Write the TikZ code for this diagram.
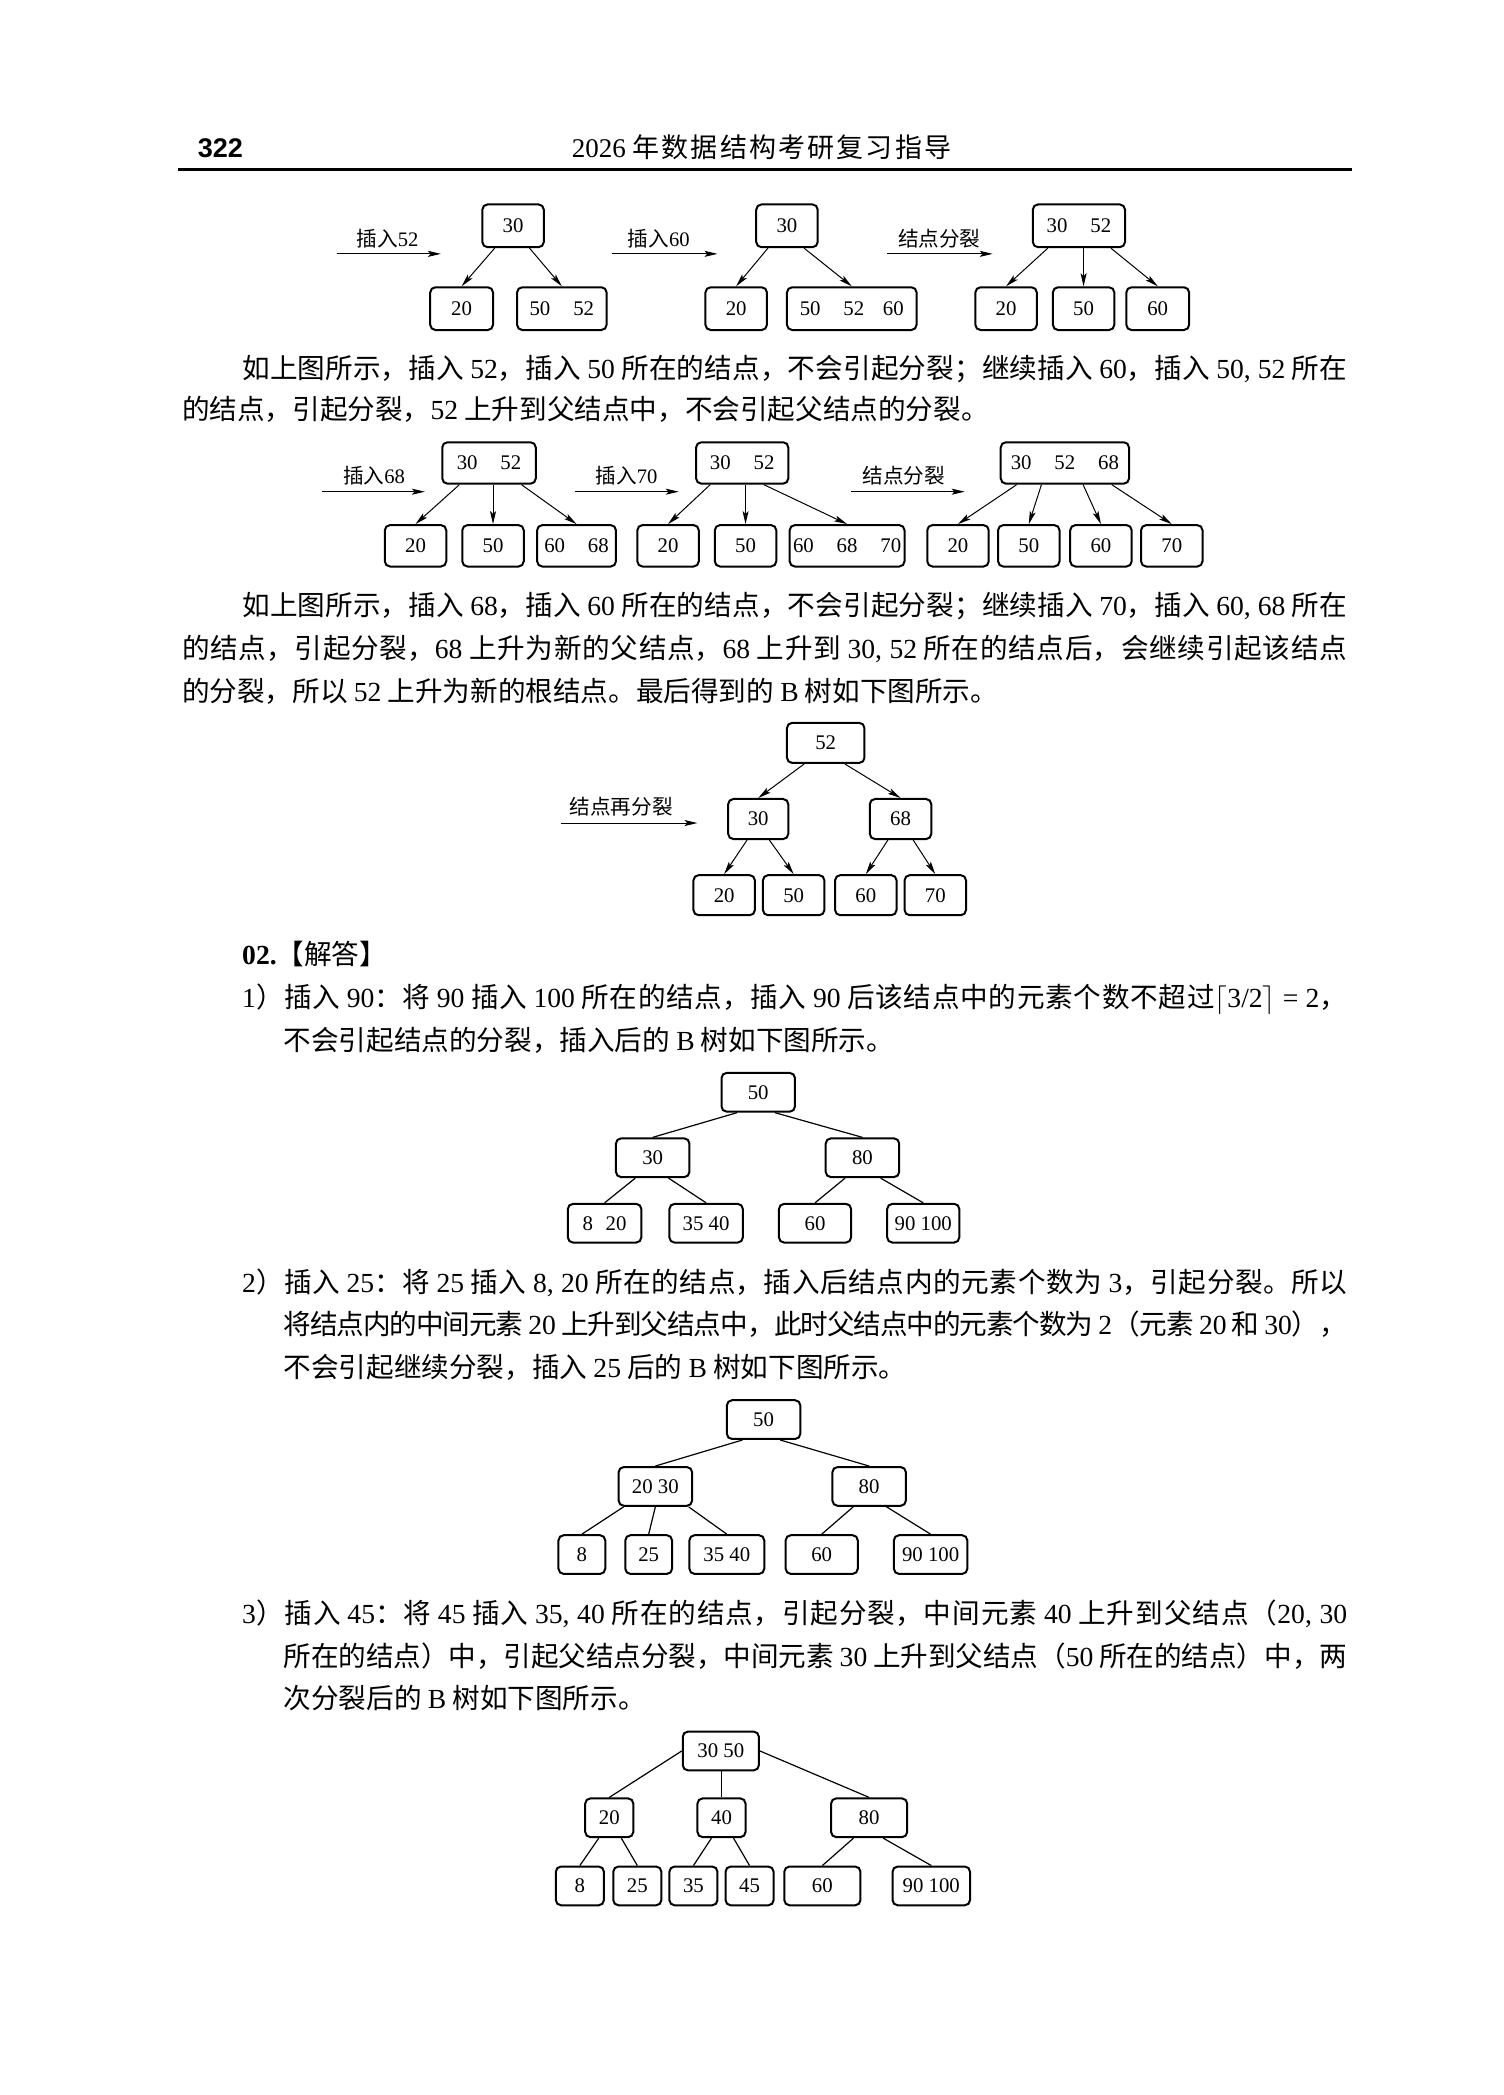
\documentclass[tikz,border=0pt]{standalone}
\usepackage{fontspec}
\setmainfont{Liberation Serif}
\newfontfamily\cjk{Noto Sans CJK SC}
\newfontfamily\cjkfang[LetterSpace=8]{Noto Sans CJK SC}
\newfontfamily\hsans{Liberation Sans}
\usetikzlibrary{arrows.meta,calc}
\newcommand\nm[1]{{\rmfamily #1}}
\newcommand\gp{\hspace{1.1em}}
\newcommand\jline[2]{\parbox[b]{#1}{\XeTeXlinebreaklocale "zh"\XeTeXlinebreakskip=0pt plus 3pt minus 1pt\tolerance=10000\parfillskip=0pt\noindent #2}}
\tikzset{
  bx/.style={draw, line width=1pt, rounded corners=2.6pt, inner sep=0pt, minimum width=#1*0.668pt},
  h/.style={minimum height=#1*0.668pt},
  arr/.style={-{Stealth[length=6.5pt,width=3pt,inset=1.4pt]}, line width=0.5pt},
  ln/.style={line width=0.6pt},
  lab/.style={inner sep=0pt, font=\fontsize{10.3}{12}\selectfont\cjk},
  txt/.style={anchor=base west, inner sep=0pt, font=\fontsize{13.8}{16}\selectfont\cjk},
}
\begin{document}
\begin{tikzpicture}[x=0.668pt, y={(0pt,-0.668pt)}, font=\fontsize{10.4}{12}\selectfont]
\fill[white] (0,0) rectangle (1125,1568);
\useasboundingbox (0,0) rectangle (1125,1568);

% header
\node[anchor=base, inner sep=0pt] (pg) at (165,118) {\fontsize{13.5}{16}\selectfont\hsans\bfseries 322};
\node[anchor=base, inner sep=0pt] (tt) at (570,118) {\fontsize{13.5}{16}\selectfont 2026 {\cjkfang 年数据结构考研复习指导}};
\coordinate (rl) at (133,127);
\coordinate (rr) at (1012,127);
\draw[line width=1.2pt] (rl) -- (rr);

% ---------- row 1 ----------
\coordinate (s1) at (252,190); \coordinate (e1) at (330,190);
\draw[arr] (s1) -- (e1);
\node[lab] (l1) at (290,179) {插入\nm{52}};
\node[bx=46,h=32] (a1r) at (384,169) {30};
\node[bx=47,h=32] (a1a) at (345.5,231) {20};
\node[bx=67,h=32] (a1b) at (420.5,231) {50\gp 52};
\draw[arr] ($(a1r.south west)!0.21!(a1r.south east)$) -- (a1a.north);
\draw[arr] ($(a1r.south west)!0.76!(a1r.south east)$) -- (a1b.north);

\coordinate (s2) at (458,190); \coordinate (e2) at (537,190);
\draw[arr] (s2) -- (e2);
\node[lab] (l2) at (493,179) {插入\nm{60}};
\node[bx=46,h=32] (a2r) at (589,169) {30};
\node[bx=46,h=32] (a2a) at (551,231) {20};
\node[bx=97,h=32] (a2b) at (637.5,231) {50\gp 52\hspace{0.9em}60};
\draw[arr] ($(a2r.south west)!0.2!(a2r.south east)$) -- (a2a.north);
\draw[arr] ($(a2r.south west)!0.77!(a2r.south east)$) -- (a2b.north);

\coordinate (s3) at (664,190); \coordinate (e3) at (743,190);
\draw[arr] (s3) -- (e3);
\node[lab] (l3) at (703,179) {结点分裂};
\node[bx=69,h=32] (a3r) at (807.5,169) {30\gp 52};
\node[bx=46,h=32] (a3a) at (753,231) {20};
\node[bx=46,h=32] (a3b) at (811,231) {50};
\node[bx=47,h=32] (a3c) at (866.5,231) {60};
\draw[arr] ($(a3r.south west)!0.17!(a3r.south east)$) -- (a3a.north);
\draw[arr] (a3b.north |- a3r.south) -- (a3b.north);
\draw[arr] ($(a3r.south west)!0.84!(a3r.south east)$) -- (a3c.north);

% paragraph 1
\node[txt] (p1a) at (181,283) {\jline{552.4pt}{如上图所示，插入 \nm{52}，插入 \nm{50} 所在的结点，不会引起分裂；继续插入 \nm{60}，插入 \nm{50, 52} 所在}};
\node[txt] (p1b) at (136,314) {的结点，引起分裂，\nm{52} 上升到父结点中，不会引起父结点的分裂。};

% ---------- row 2 ----------
\coordinate (s4) at (241,368); \coordinate (e4) at (318,368);
\draw[arr] (s4) -- (e4);
\node[lab] (l4) at (280,356) {插入\nm{68}};
\node[bx=70,h=31] (b1r) at (366,346.5) {30\gp 52};
\node[bx=46,h=31] (b1a) at (311,408.5) {20};
\node[bx=46,h=31] (b1b) at (369,408.5) {50};
\node[bx=59,h=31] (b1c) at (431.5,408.5) {60\gp 68};
\draw[arr] ($(b1r.south west)!0.19!(b1r.south east)$) -- (b1a.north);
\draw[arr] (b1b.north |- b1r.south) -- (b1b.north);
\draw[arr] ($(b1r.south west)!0.84!(b1r.south east)$) -- (b1c.north);

\coordinate (s5) at (430,368); \coordinate (e5) at (508,368);
\draw[arr] (s5) -- (e5);
\node[lab] (l5) at (469,356) {插入\nm{70}};
\node[bx=69,h=31] (b2r) at (555.5,346.5) {30\gp 52};
\node[bx=46,h=31] (b2a) at (500,408.5) {20};
\node[bx=46,h=31] (b2b) at (558,408.5) {50};
\node[bx=86,h=31] (b2c) at (634,408.5) {60\gp 68\gp 70};
\draw[arr] ($(b2r.south west)!0.16!(b2r.south east)$) -- (b2a.north);
\draw[arr] (b2b.north |- b2r.south) -- (b2b.north);
\draw[arr] ($(b2r.south west)!0.73!(b2r.south east)$) -- (b2c.north);

\coordinate (s6) at (637,368); \coordinate (e6) at (722,368);
\draw[arr] (s6) -- (e6);
\node[lab] (l6) at (676.5,356) {结点分裂};
\node[bx=96,h=31] (b3r) at (797,346.5) {30\gp 52\gp 68};
\node[bx=46,h=31] (b3a) at (717,408.5) {20};
\node[bx=46,h=31] (b3b) at (770,408.5) {50};
\node[bx=46,h=31] (b3c) at (824,408.5) {60};
\node[bx=46,h=31] (b3d) at (877,408.5) {70};
\draw[arr] ($(b3r.south west)!0.13!(b3r.south east)$) -- (b3a.north);
\draw[arr] ($(b3r.south west)!0.32!(b3r.south east)$) -- (b3b.north);
\draw[arr] ($(b3r.south west)!0.64!(b3r.south east)$) -- (b3c.north);
\draw[arr] ($(b3r.south west)!0.86!(b3r.south east)$) -- (b3d.north);

% paragraph 2
\node[txt] (p2a) at (181,461) {\jline{552.4pt}{如上图所示，插入 \nm{68}，插入 \nm{60} 所在的结点，不会引起分裂；继续插入 \nm{70}，插入 \nm{60, 68} 所在}};
\node[txt] (p2b) at (136,493) {\jline{582.5pt}{的结点，引起分裂，\nm{68} 上升为新的父结点，\nm{68} 上升到 \nm{30, 52} 所在的结点后，会继续引起该结点}};
\node[txt] (p2c) at (136,525) {的分裂，所以 \nm{52} 上升为新的根结点。最后得到的 \nm{B} 树如下图所示。};

% ---------- tree 4 ----------
\coordinate (s7) at (420,616); \coordinate (e7) at (522,616);
\draw[arr] (s7) -- (e7);
\node[lab] (l7) at (465,604) {结点再分裂};
\node[bx=58,h=30] (cr) at (618,556) {52};
\node[bx=45,h=30] (ca) at (567.5,613) {30};
\node[bx=46,h=30] (cb) at (674,613) {68};
\node[bx=46,h=30] (c1) at (542,670) {20};
\node[bx=46,h=30] (c2) at (594,670) {50};
\node[bx=46,h=30] (c3) at (648,670) {60};
\node[bx=46,h=30] (c4) at (700,670) {70};
\draw[arr] ($(cr.south west)!0.23!(cr.south east)$) -- (ca.north);
\draw[arr] ($(cr.south west)!0.74!(cr.south east)$) -- (cb.north);
\draw[arr] ($(ca.south west)!0.32!(ca.south east)$) -- (c1.north);
\draw[arr] ($(ca.south west)!0.68!(ca.south east)$) -- (c2.north);
\draw[arr] ($(cb.south west)!0.3!(cb.south east)$) -- (c3.north);
\draw[arr] ($(cb.south west)!0.7!(cb.south east)$) -- (c4.north);

% section 02
\node[txt] (sec) at (181,722) {\nm{\bfseries 02.}【解答】};
\node[txt] (i1a) at (181,754) {\jline{552.4pt}{\nm{1}）插入 \nm{90}：将 \nm{90} 插入 \nm{100} 所在的结点，插入 \nm{90} 后该结点中的元素个数不超过\nm{$\lceil$3/2$\rceil$ = 2}，}};
\node[txt] (i1b) at (212,786) {不会引起结点的分裂，插入后的 \nm{B} 树如下图所示。};

% ---------- tree 5 ----------
\node[bx=55,h=29] (dr) at (567.5,817.5) {50};
\node[bx=55,h=29] (da) at (488.5,866.5) {30};
\node[bx=55,h=29] (db) at (645.5,866.5) {80};
\node[bx=55,h=29] (d1) at (452.5,915.5) {8\hspace{0.6em}20};
\node[bx=55,h=29] (d2) at (528.5,915.5) {35 40};
\node[bx=54,h=29] (d3) at (610,915.5) {60};
\node[bx=54,h=29] (d4) at (691,915.5) {90 100};
\draw[ln] ($(dr.south west)!0.22!(dr.south east)$) -- (da.north);
\draw[ln] ($(dr.south west)!0.72!(dr.south east)$) -- (db.north);
\draw[ln] ($(da.south west)!0.27!(da.south east)$) -- (d1.north);
\draw[ln] ($(da.south west)!0.71!(da.south east)$) -- (d2.north);
\draw[ln] ($(db.south west)!0.27!(db.south east)$) -- (d3.north);
\draw[ln] ($(db.south west)!0.74!(db.south east)$) -- (d4.north);

\node[txt] (i2a) at (181,967) {\jline{552.4pt}{\nm{2}）插入 \nm{25}：将 \nm{25} 插入 \nm{8, 20} 所在的结点，插入后结点内的元素个数为 \nm{3}，引起分裂。所以}};
\node[txt] (i2b) at (212,999) {\jline{531.7pt}{将结点内的中间元素 \nm{20} 上升到父结点中，此时父结点中的元素个数为 \nm{2}（元素 \nm{20} 和 \nm{30}），}};
\node[txt] (i2c) at (212,1031) {不会引起继续分裂，插入 \nm{25} 后的 \nm{B} 树如下图所示。};

% ---------- tree 6 ----------
\node[bx=55,h=29] (er) at (571.5,1062.5) {50};
\node[bx=55,h=29] (ea) at (490.5,1112.5) {20 30};
\node[bx=55,h=29] (eb) at (650.5,1112.5) {80};
\node[bx=35,h=29] (e1) at (435.5,1163.5) {8};
\node[bx=35,h=29] (e2) at (485.5,1163.5) {25};
\node[bx=56,h=29] (e3) at (544,1163.5) {35 40};
\node[bx=54,h=29] (e4) at (615,1163.5) {60};
\node[bx=55,h=29] (e5) at (696.5,1163.5) {90 100};
\draw[ln] ($(er.south west)!0.22!(er.south east)$) -- (ea.north);
\draw[ln] ($(er.south west)!0.72!(er.south east)$) -- (eb.north);
\draw[ln] ($(ea.south west)!0.08!(ea.south east)$) -- (e1.north);
\draw[ln] ($(ea.south west)!0.5!(ea.south east)$) -- (e2.north);
\draw[ln] ($(ea.south west)!0.94!(ea.south east)$) -- (e3.north);
\draw[ln] ($(eb.south west)!0.29!(eb.south east)$) -- (e4.north);
\draw[ln] ($(eb.south west)!0.73!(eb.south east)$) -- (e5.north);

\node[txt] (i3a) at (181,1215) {\jline{552.4pt}{\nm{3}）插入 \nm{45}：将 \nm{45} 插入 \nm{35, 40} 所在的结点，引起分裂，中间元素 \nm{40} 上升到父结点（\nm{20, 30}}};
\node[txt] (i3b) at (212,1247) {\jline{531.7pt}{所在的结点）中，引起父结点分裂，中间元素 \nm{30} 上升到父结点（\nm{50} 所在的结点）中，两}};
\node[txt] (i3c) at (212,1279) {次分裂后的 \nm{B} 树如下图所示。};

% ---------- tree 7 ----------
\node[bx=57,h=29] (fr) at (539.5,1310.5) {30 50};
\node[bx=36,h=29] (fa) at (456,1360.5) {20};
\node[bx=36,h=29] (fb) at (540,1360.5) {40};
\node[bx=57,h=29] (fc) at (650.5,1360.5) {80};
\node[bx=36,h=29] (f1) at (434,1411.5) {8};
\node[bx=36,h=29] (f2) at (477,1411.5) {25};
\node[bx=36,h=29] (f3) at (519,1411.5) {35};
\node[bx=36,h=29] (f4) at (561,1411.5) {45};
\node[bx=57,h=29] (f5) at (615.5,1411.5) {60};
\node[bx=58,h=29] (f6) at (697,1411.5) {90 100};
\draw[ln] (fr.west) -- (fa.north);
\draw[ln] (fb.north |- fr.south) -- (fb.north);
\draw[ln] (fr.east) -- (fc.north);
\draw[ln] ($(fa.south west)!0.29!(fa.south east)$) -- (f1.north);
\draw[ln] ($(fa.south west)!0.74!(fa.south east)$) -- (f2.north);
\draw[ln] ($(fb.south west)!0.3!(fb.south east)$) -- (f3.north);
\draw[ln] ($(fb.south west)!0.74!(fb.south east)$) -- (f4.north);
\draw[ln] ($(fc.south west)!0.3!(fc.south east)$) -- (f5.north);
\draw[ln] ($(fc.south west)!0.68!(fc.south east)$) -- (f6.north);
\end{tikzpicture}
\end{document}
